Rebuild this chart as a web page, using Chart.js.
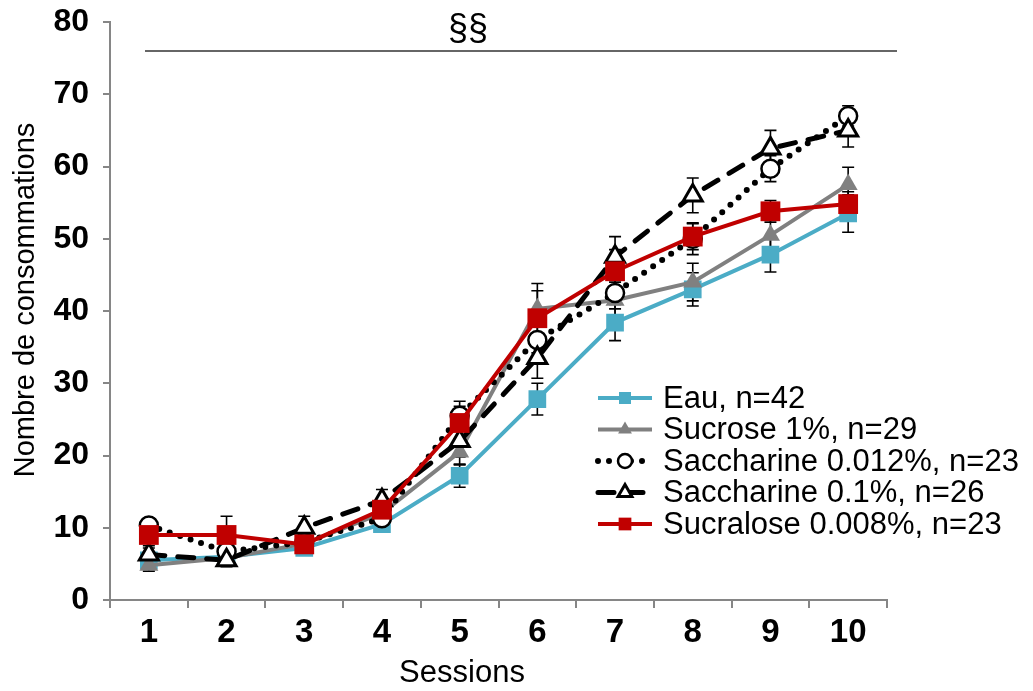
<!DOCTYPE html>
<html>
<head>
<meta charset="utf-8">
<script src="https://cdn.jsdelivr.net/npm/chart.js@4.4.1/dist/chart.umd.min.js"></script>
<style>
  html, body { margin: 0; padding: 0; background: #fff; }
  #wrap { width: 1033px; height: 691px; }
</style>
</head>
<body>
<div id="wrap"><canvas id="myChart" width="1033" height="691"></canvas></div>
<script>
var sessions = ['1', '2', '3', '4', '5', '6', '7', '8', '9', '10'];

var eau = [5.5, 6.0, 7.2, 10.5, 17.2, 27.8, 38.4, 43.0, 47.8, 53.5];
var sucrose = [4.8, 5.8, 7.8, 12.0, 20.5, 40.3, 41.5, 44.0, 50.5, 57.5];
var saccharine012 = [10.3, 6.7, 8.0, 11.3, 25.5, 36.0, 42.5, 50.0, 59.7, 67.0];
var saccharine01 = [6.3, 5.5, 10.0, 13.8, 22.0, 33.5, 47.5, 56.0, 62.5, 65.0];
var sucralose = [9.0, 9.0, 7.7, 12.5, 24.5, 39.0, 45.5, 50.3, 53.8, 54.8];

// error bars (sem)
var eauErr = [0.8, 0.8, 0.6, 0.9, 1.6, 2.2, 2.5, 2.3, 2.4, 2.6];
var sucroseErr = [0.8, 0.8, 0.8, 1.2, 1.8, 2.5, 2.5, 2.6, 2.5, 2.4];
var saccharine012Err = [1.0, 1.0, 1.0, 1.2, 2.0, 2.5, 2.2, 2.2, 1.8, 1.4];
var saccharine01Err = [0.9, 0.9, 1.6, 1.5, 2.2, 2.8, 2.8, 2.4, 2.5, 2.3];
var sucraloseErr = [1.5, 2.6, 1.2, 1.5, 2.3, 4.8, 3.0, 1.8, 1.5, 1.7];

var legendLabels = ['Eau, n=42', 'Sucrose 1%, n=29', 'Saccharine 0.012%, n=23', 'Saccharine 0.1%, n=26', 'Sucralose 0.008%, n=23'];
var yTicks = [0, 10, 20, 30, 40, 50, 60, 70, 80];
var sigLabel = '§§';
var sigLevel = 76;
var xTitle = 'Sessions';
var yTitle = 'Nombre de consommations';

var FONT = "'Liberation Sans', Arial, sans-serif";

// error bars drawn under the markers
var errorBars = {
    id: 'errorBars',
    beforeDatasetsDraw: function(chart) {
        var ctx = chart.ctx;
        var y = chart.scales.y;
        ctx.save();
        ctx.strokeStyle = '#000';
        ctx.lineWidth = 1.6;
        chart.data.datasets.forEach(function(ds, i) {
            var meta = chart.getDatasetMeta(i);
            meta.data.forEach(function(pt, j) {
                var e = ds.err[j];
                var top = y.getPixelForValue(ds.data[j] + e);
                var bot = y.getPixelForValue(ds.data[j] - e);
                ctx.beginPath();
                ctx.moveTo(pt.x, top); ctx.lineTo(pt.x, bot);
                ctx.moveTo(pt.x - 6, top); ctx.lineTo(pt.x + 6, top);
                ctx.moveTo(pt.x - 6, bot); ctx.lineTo(pt.x + 6, bot);
                ctx.stroke();
            });
        });
        ctx.restore();
    }
};

// axis titles, significance line, legend with line samples
var extras = {
    id: 'extras',
    afterDraw: function(chart) {
        var ctx = chart.ctx;
        var x = chart.scales.x, y = chart.scales.y;
        ctx.save();
        ctx.fillStyle = '#000';
        ctx.textAlign = 'center';
        ctx.textBaseline = 'middle';
        ctx.font = '31px ' + FONT;
        ctx.fillText(xTitle, 462, 673);
        ctx.save();
        ctx.translate(26, 300);
        ctx.rotate(-Math.PI / 2);
        ctx.font = '29px ' + FONT;
        ctx.fillText(yTitle, 0, 0);
        ctx.restore();

        var ly = y.getPixelForValue(sigLevel);
        ctx.strokeStyle = '#333';
        ctx.lineWidth = 1.5;
        ctx.beginPath();
        ctx.moveTo(x.left + 35, ly);
        ctx.lineTo(x.right + 10, ly);
        ctx.stroke();
        ctx.font = '36px ' + FONT;
        ctx.fillText(sigLabel, 468, 30);

        var sizes = [8.5, 8, 7, 8, 9];
        chart.data.datasets.forEach(function(ds, i) {
            var ry = 398 + i * 31.5;
            ctx.save();
            ctx.strokeStyle = ds.borderColor;
            ctx.lineWidth = ds.borderWidth;
            ctx.lineCap = ds.borderCapStyle || 'butt';
            ctx.setLineDash(ds.borderDash || []);
            ctx.beginPath();
            ctx.moveTo(598, ry);
            ctx.lineTo(652, ry);
            ctx.stroke();
            ctx.restore();
            ctx.save();
            ctx.fillStyle = ds.pointBackgroundColor;
            ctx.strokeStyle = ds.pointBorderColor;
            ctx.lineWidth = ds.pointBorderWidth;
            Chart.helpers.drawPoint(ctx, {pointStyle: ds.pointStyle, radius: sizes[i], borderWidth: ds.pointBorderWidth}, 625, ry);
            ctx.restore();
            ctx.fillStyle = '#000';
            ctx.font = '31px ' + FONT;
            ctx.textAlign = 'left';
            ctx.fillText(legendLabels[i], 663, ry + 1);
        });
        ctx.restore();
    }
};

var ctx = document.getElementById('myChart').getContext('2d');
var myChart = new Chart(ctx, {
    type: 'line',
    data: {
        labels: sessions,
        datasets: [{
            label: legendLabels[0],
            data: eau,
            err: eauErr,
            borderColor: '#4BACC6',
            borderWidth: 4,
            pointStyle: 'rect',
            pointRadius: 12.5,
            pointBackgroundColor: '#4BACC6',
            pointBorderColor: '#4BACC6',
            pointBorderWidth: 0,
            order: 5
        }, {
            label: legendLabels[1],
            data: sucrose,
            err: sucroseErr,
            borderColor: '#808080',
            borderWidth: 4,
            pointStyle: 'triangle',
            pointRadius: 11,
            pointBackgroundColor: '#808080',
            pointBorderColor: '#808080',
            pointBorderWidth: 0,
            order: 4
        }, {
            label: legendLabels[2],
            data: saccharine012,
            err: saccharine012Err,
            borderColor: '#000',
            borderWidth: 6,
            borderDash: [0, 11],
            borderCapStyle: 'round',
            pointStyle: 'circle',
            pointRadius: 9,
            pointBackgroundColor: '#fff',
            pointBorderColor: '#000',
            pointBorderWidth: 2.5,
            order: 3
        }, {
            label: legendLabels[3],
            data: saccharine01,
            err: saccharine01Err,
            borderColor: '#000',
            borderWidth: 5,
            borderDash: [16, 13],
            borderCapStyle: 'round',
            pointStyle: 'triangle',
            pointRadius: 11,
            pointBackgroundColor: '#fff',
            pointBorderColor: '#000',
            pointBorderWidth: 3,
            order: 2
        }, {
            label: legendLabels[4],
            data: sucralose,
            err: sucraloseErr,
            borderColor: '#C00000',
            borderWidth: 4,
            pointStyle: 'rect',
            pointRadius: 14,
            pointBackgroundColor: '#C00000',
            pointBorderColor: '#C00000',
            pointBorderWidth: 0,
            order: 1
        }]
    },
    options: {
        responsive: false,
        animation: false,
        devicePixelRatio: 1,
        layout: { padding: { left: 0, right: 146, top: 22, bottom: 0 } },
        plugins: {
            legend: { display: false },
            tooltip: { enabled: false }
        },
        scales: {
            x: {
                offset: true,
                grid: { display: true, drawOnChartArea: false, color: '#868686', lineWidth: 2, tickLength: 8, offset: true },
                border: { display: true, color: '#868686', width: 2 },
                ticks: { color: '#000', font: { family: FONT, size: 33, weight: 'bold' }, padding: 5, maxRotation: 0 },
                afterFit: function(s) { s.height = 91; }
            },
            y: {
                min: 0,
                max: 80,
                afterBuildTicks: function(s) { s.ticks = yTicks.map(function(v) { return { value: v }; }); },
                grid: { display: true, drawOnChartArea: false, color: '#868686', lineWidth: 2, tickLength: 7 },
                border: { display: true, color: '#868686', width: 2 },
                ticks: { color: '#000', font: { family: FONT, size: 32, weight: 'bold', lineHeight: 0.4 }, padding: 14 },
                afterFit: function(s) { s.width = 110; }
            }
        }
    },
    plugins: [errorBars, extras]
});
</script>
</body>
</html>
